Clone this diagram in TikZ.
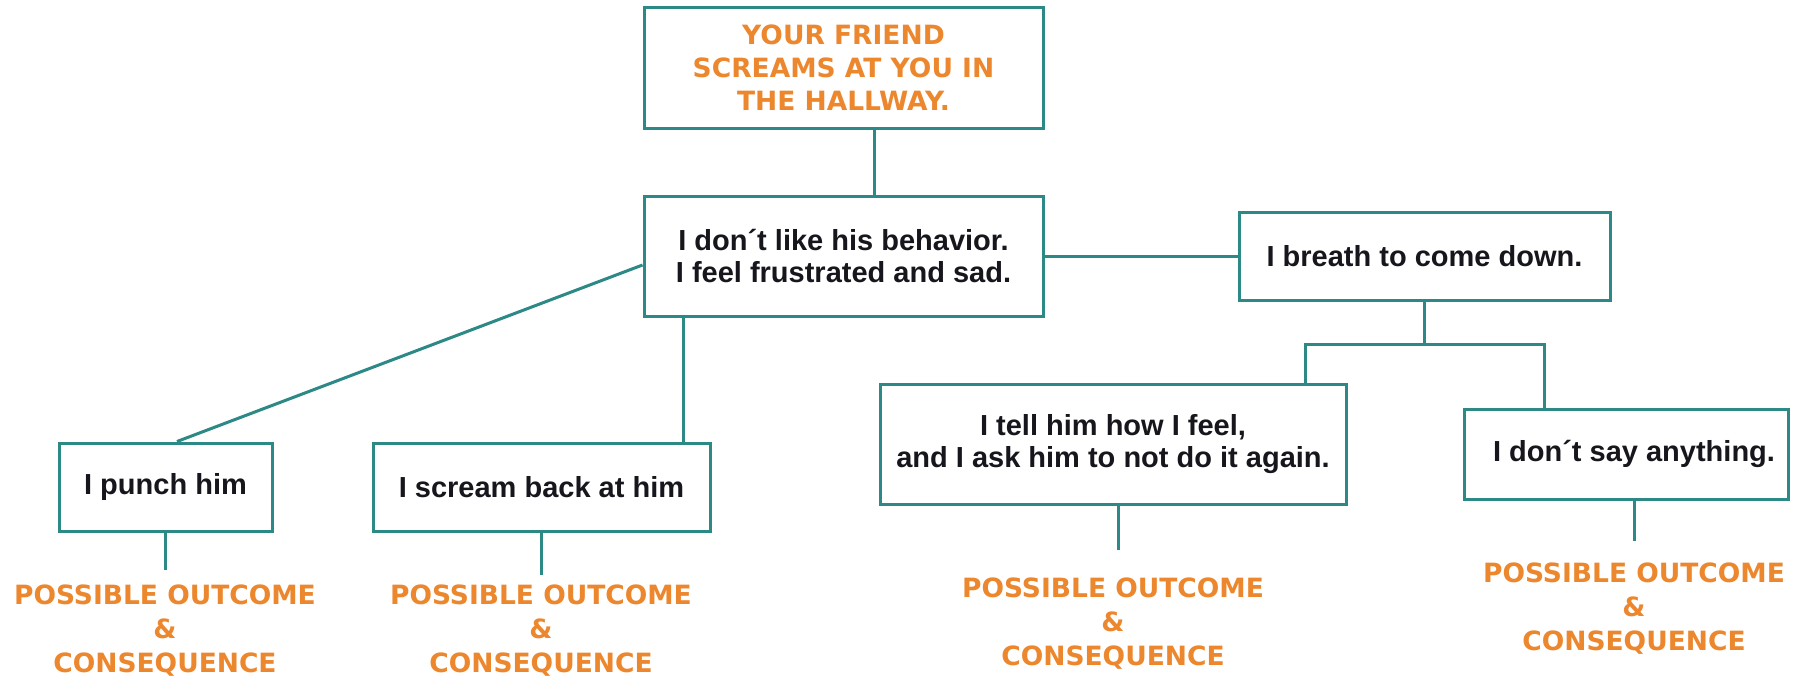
\documentclass[tikz,border=0pt]{standalone}
\usepackage{fontspec}
\setmainfont{Liberation Sans}
\newfontfamily\verd{DejaVu Sans}
\usetikzlibrary{calc,shadows}
\definecolor{tealc}{RGB}{44,137,133}
\definecolor{orng}{RGB}{236,135,45}
\definecolor{inkc}{RGB}{22,22,28}
\begin{document}
\begin{tikzpicture}[x=0.5pt,y=-0.5pt,
  box/.style={draw=tealc, line width=1.5pt, fill=white, rectangle, inner sep=0pt,
    align=center, text=inkc, font=\bfseries\fontsize{14.5}{16.25}\selectfont,
    drop shadow={shadow xshift=1pt, shadow yshift=-1pt, opacity=0.18, fill=black}},
  outc/.style={text=orng, align=center, inner sep=0pt,
    font=\verd\bfseries\fontsize{13.25}{17}\selectfont},
  topt/.style={text=orng, font=\verd\bfseries\fontsize{13.25}{16.5}\selectfont},
  link/.style={draw=tealc, line width=1.5pt}]
\useasboundingbox (0,0) rectangle (1798,681);
\fill[white] (0,0) rectangle (1798,681);

\node[box, topt, minimum width=199.5pt, minimum height=60.5pt] (top) at (843.5,67.5)
  {YOUR FRIEND\\SCREAMS AT YOU IN\\THE HALLWAY.};
\node[box, minimum width=199.5pt, minimum height=60pt] (mid) at (843.5,256)
  {I don´t like his behavior.\\I feel frustrated and sad.};
\node[box, minimum width=185.5pt, minimum height=44pt] (breath) at (1424.5,256)
  {I breath to come down.};
\node[box, minimum width=106.5pt, minimum height=44pt] (punch) at (165.5,487)
  {I punch him};
\node[box, minimum width=168.5pt, minimum height=44pt] (scream) at (541.5,487)
  {I scream back at him};
\node[box, minimum width=233pt, minimum height=60pt] (tell) at (1113,444)
  {I tell him how I feel,\\and I ask him to not do it again.};
\node[box, minimum width=162pt, minimum height=45pt] (dont) at (1626,454)
  {\hspace*{8pt}I don´t say anything.};

\node[outc] (o1) at (165,631) {POSSIBLE OUTCOME\\\&\\CONSEQUENCE};
\node[outc] (o2) at (541,631) {POSSIBLE OUTCOME\\\&\\CONSEQUENCE};
\node[outc] (o3) at (1113,624) {POSSIBLE OUTCOME\\\&\\CONSEQUENCE};
\node[outc] (o4) at (1634,609) {POSSIBLE OUTCOME\\\&\\CONSEQUENCE};

% connectors
\draw[link] ($(top.south)+(30.5,0)$) coordinate (a) -- (a |- mid.north);
\draw[link] (mid.east) -- (breath.west);
\draw[link] ($(mid.west)+(0,9)$) -- ($(punch.north)+(11.5,0)$);
\draw[link] ($(scream.north)+(141.5,0)$) coordinate (b) -- (b |- mid.south);
\draw[link] (breath.south) -- ++(0,43) coordinate (j);
\draw[link] ($(tell.north)+(192,0)$) |- (j) -| ($(dont.north)+(-82,0)$);

\draw[link] (punch.south) -- ($(punch.south)+(0,37)$) coordinate (e1);
\draw[link] (scream.south) -- ($(scream.south)+(0,42)$) coordinate (e2);
\draw[link] ($(tell.south)+(5,0)$) -- ($(tell.south)+(5,44)$) coordinate (e3);
\draw[link] ($(dont.south)+(8,0)$) -- ($(dont.south)+(8,40)$) coordinate (e4);
\end{tikzpicture}
\end{document}
